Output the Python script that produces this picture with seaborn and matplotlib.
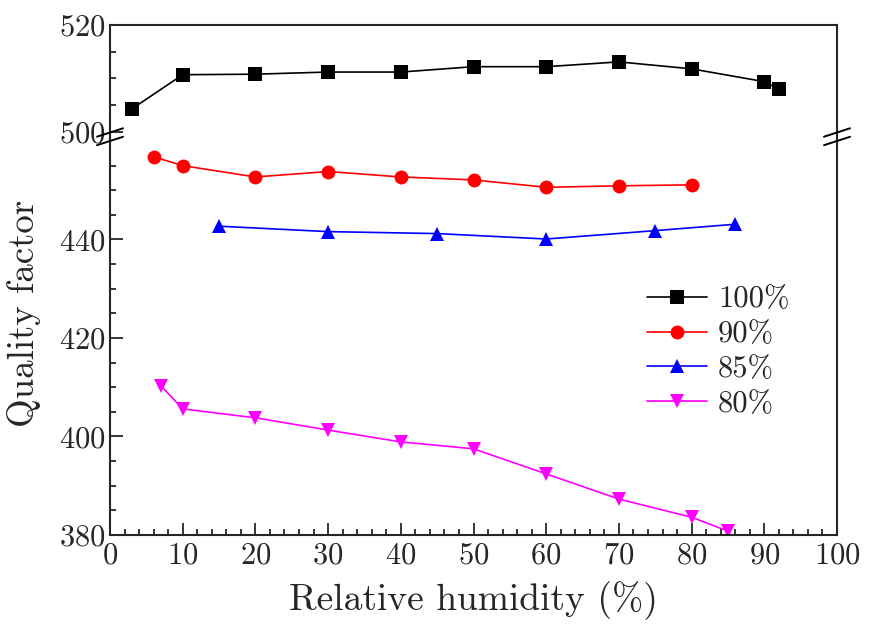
import matplotlib
matplotlib.use("Agg")
import matplotlib.pyplot as plt
from matplotlib.lines import Line2D
from matplotlib.ticker import MultipleLocator, FixedLocator
import seaborn as sns

# data
rh_100 = [3, 10, 20, 30, 40, 50, 60, 70, 80, 90, 92]
q_100 = [504.3, 510.7, 510.8, 511.2, 511.2, 512.2, 512.2, 513.1, 511.8, 509.4, 508.0]
rh_90 = [6, 10, 20, 30, 40, 50, 60, 70, 80]
q_90 = [456.8, 455.0, 452.7, 453.8, 452.7, 452.1, 450.6, 450.9, 451.1]
rh_85 = [15, 30, 45, 60, 75, 86]
q_85 = [442.7, 441.6, 441.2, 440.1, 441.8, 443.1]
rh_80 = [7, 10, 20, 30, 40, 50, 60, 70, 80, 85]
q_80 = [410.3, 405.6, 403.8, 401.3, 398.9, 397.5, 392.4, 387.3, 383.6, 380.8]
labels = ["100%", "90%", "85%", "80%"]

sns.set_style("ticks")
plt.rcParams["font.family"] = ["cmr10", "DejaVu Serif"]
plt.rcParams["mathtext.fontset"] = "cm"
plt.rcParams["axes.formatter.use_mathtext"] = True

fig = plt.figure(figsize=(8.71, 6.25), dpi=100)
L, R = 110 / 871, 837 / 871
y_top, y_mid, y_bot = 1 - 25 / 625, 1 - 141 / 625, 1 - 535 / 625
ax_t = fig.add_axes([L, y_mid, R - L, y_top - y_mid])
ax_b = fig.add_axes([L, y_bot, R - L, y_mid - y_bot])

kw = dict(linewidth=1.2, markersize=10, markeredgewidth=0)
sns.lineplot(x=rh_100, y=q_100, ax=ax_t, color="black", marker="s", sort=False, **kw)
sns.lineplot(x=rh_90, y=q_90, ax=ax_b, color="red", marker="o", sort=False, **kw)
sns.lineplot(x=rh_85, y=q_85, ax=ax_b, color="blue", marker="^", sort=False, **kw)
sns.lineplot(x=rh_80, y=q_80, ax=ax_b, color="magenta", marker="v", sort=False, **kw)

ax_t.set_ylim(498.3, 520)
ax_b.set_ylim(380, 460)
for ax in (ax_t, ax_b):
    ax.set_xlim(0, 100)
    for s in ax.spines.values():
        s.set_linewidth(1.5)
    ax.tick_params(which="both", direction="in", width=1.3, labelsize=22,
                   top=False, right=False, pad=3)
    ax.tick_params(which="major", length=9)
    ax.tick_params(which="minor", length=4.5)
    ax.yaxis.set_minor_locator(MultipleLocator(5))
ax_b.tick_params(axis="x", pad=5)

ax_t.spines["bottom"].set_visible(False)
ax_b.spines["top"].set_visible(False)
ax_t.tick_params(axis="x", which="both", bottom=False, labelbottom=False)
ax_t.yaxis.set_major_locator(FixedLocator([500, 520]))
ax_b.yaxis.set_major_locator(FixedLocator([380, 400, 420, 440]))
ax_b.yaxis.set_minor_locator(FixedLocator([385, 390, 395, 405, 410, 415, 425, 430, 435, 445, 450, 455]))
ax_b.xaxis.set_major_locator(MultipleLocator(10))
ax_b.xaxis.set_minor_locator(MultipleLocator(2))
ax_t.set_xlabel("")
ax_b.set_xlabel("")
for lab in ax_t.get_yticklabels() + ax_b.get_yticklabels() + ax_b.get_xticklabels():
    lab.set_fontfamily("cmr10")

# break marks on both side spines
for xc in (L, R):
    for yp in (132.5, 141):
        yc = 1 - yp / 625
        fig.add_artist(Line2D([xc - 13 / 871, xc + 13 / 871],
                              [yc - 4.2 / 625, yc + 4.2 / 625],
                              color="black", linewidth=1.4, transform=fig.transFigure))

fig.text(473 / 871, 1 - 601 / 625, r"Relative humidity (%)", ha="center", va="center", fontsize=27)
fig.text(24 / 871, 1 - 313 / 625, "Quality factor", ha="center", va="center",
         rotation=90, fontsize=26.5)

handles = [ax_t.lines[0]] + ax_b.lines[:3]
ax_b.legend(handles, labels, loc="upper left", bbox_to_anchor=(0.739, 0.632),
            frameon=False, fontsize=22, handlelength=1.96, labelspacing=0.24,
            handletextpad=0.35, borderaxespad=0, borderpad=0)

fig.savefig("out.png", dpi=100)
